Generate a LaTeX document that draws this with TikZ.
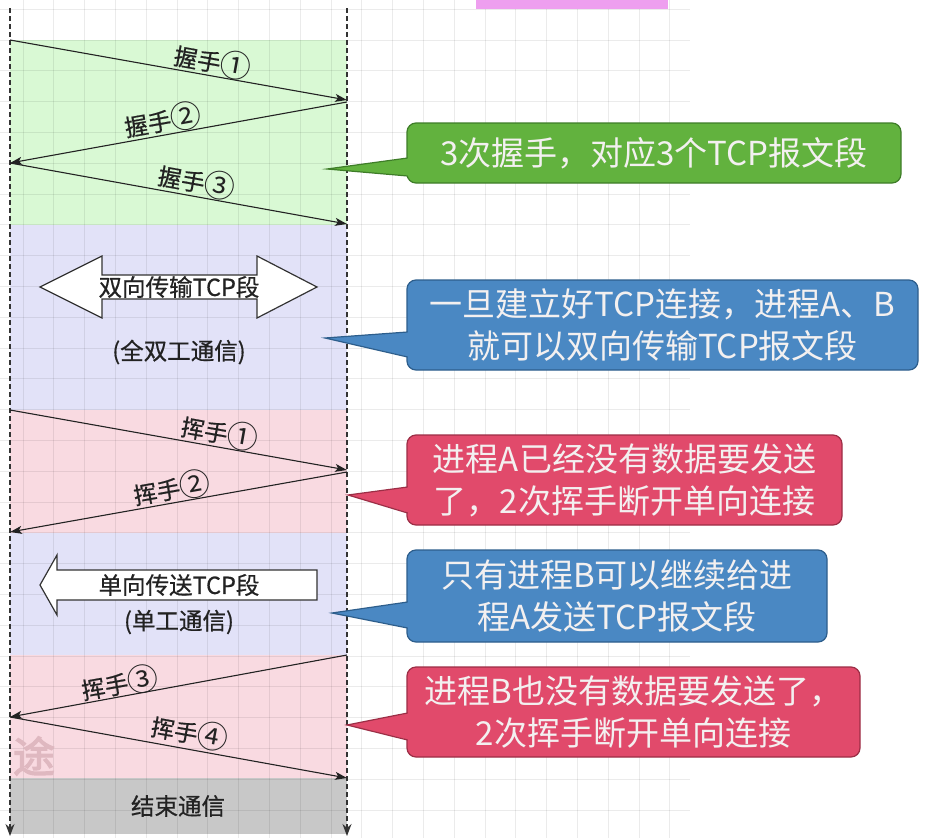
\documentclass[tikz,border=0pt]{standalone}
\usepackage{fontspec}
\usepackage{graphicx}
\setmainfont{Noto Sans CJK SC}
\newfontfamily\lblfont{Noto Sans CJK SC}[FakeBold=0.6]
\newfontfamily\wmfont{Noto Sans CJK SC}[FakeBold=3]
\usetikzlibrary{arrows.meta}
\definecolor{bandgreen}{HTML}{D9F9D4}
\definecolor{bandlav}{HTML}{E2E2F8}
\definecolor{bandpink}{HTML}{F9DAE1}
\definecolor{bandgray}{HTML}{C8C8C8}
\definecolor{cgreen}{HTML}{62B23E}
\definecolor{cgreenb}{HTML}{3E7D28}
\definecolor{cblue}{HTML}{4A88C3}
\definecolor{cblueb}{HTML}{2D5E8C}
\definecolor{cred}{HTML}{E14A6B}
\definecolor{credb}{HTML}{9C2E46}
\definecolor{ink}{HTML}{222222}
\definecolor{topbar}{HTML}{EE9FEF}
\definecolor{calltext}{HTML}{F3F0F0}
\definecolor{wmark}{HTML}{DFB8C0}
\newcommand\cnum[1]{{\rmfamily\raisebox{-0.07em}{\scalebox{1.32}{#1}}}}
\tikzset{
  gridline/.style={draw=black, opacity=0.08, line width=1pt},
  lifeline/.style={draw=black!80, line width=1.3pt, dash pattern=on 5pt off 3pt, -{Stealth[length=12pt,width=9pt]}},
  msg/.style={draw=ink, line width=1.1pt, -{Stealth[length=12pt,width=8pt,inset=3pt]}},
  lbl/.style={text=ink, font=\lblfont\fontsize{23.5}{27}\selectfont, inner sep=0pt},
  bigarrow/.style={draw=black!80, fill=white, line width=1.2pt, line join=miter},
  callbox/.style={rounded corners=9pt, line width=1.2pt, text=calltext, align=center,
    font=\fontsize{33}{42}\selectfont, inner sep=0pt},
}
\begin{document}
\begin{tikzpicture}[x=1pt,y=-1pt]
\useasboundingbox (0,0) rectangle (932,838);
\fill[white] (0,0) rectangle (932,838);
% bands
\fill[bandgreen] (10,40) rectangle (347,225);
\fill[bandlav] (10,225) rectangle (347,410);
\fill[bandpink] (10,410) rectangle (347,533);
\fill[bandlav] (10,533) rectangle (347,655);
\fill[bandpink] (10,655) rectangle (347,778);
\fill[bandgray] (10,778) rectangle (347,834);
% grid
\foreach \k in {0,...,21} { \draw[gridline] ({23+30.8*\k},0) -- ({23+30.8*\k},838); }
\foreach \k in {0,...,26} { \draw[gridline] (0,{9.2+30.8*\k}) -- (690,{9.2+30.8*\k}); }
% top bar
\fill[topbar] (476,0) rectangle (668,9);
% watermark
\node[text=wmark, font=\wmfont\fontsize{42}{42}\selectfont, inner sep=0pt] (wm) at (34,756) {途};
% lifelines
\coordinate (Atop) at (10,8);
\coordinate (Abot) at (10,836);
\coordinate (Btop) at (347,8);
\coordinate (Bbot) at (347,836);
\draw[lifeline] (Atop) -- (Abot);
\draw[lifeline] (Btop) -- (Bbot);
% message end points
\coordinate (a1) at (10,40);  \coordinate (b1) at (347,100);
\coordinate (b2) at (347,102); \coordinate (a2) at (10,163);
\coordinate (a3) at (10,163); \coordinate (b3) at (347,224);
\coordinate (a4) at (10,410); \coordinate (b4) at (347,470);
\coordinate (b5) at (347,472); \coordinate (a5) at (10,532);
\coordinate (b6) at (347,655); \coordinate (a6) at (10,717);
\coordinate (a7) at (10,717); \coordinate (b7) at (347,778);
\draw[msg] (a1) -- (b1);
\draw[msg] (b2) -- (a2);
\draw[msg] (a3) -- (b3);
\draw[msg] (a4) -- (b4);
\draw[msg] (b5) -- (a5);
\draw[msg] (b6) -- (a6);
\draw[msg] (a7) -- (b7);
\node[lbl, rotate=-10.1] (l1) at (213,61) {握手\cnum{①}};
\node[lbl, rotate=10.1] (l2) at (163,120) {握手\cnum{②}};
\node[lbl, rotate=-10.1] (l3) at (197,181) {握手\cnum{③}};
\node[lbl, rotate=-10.1] (l4) at (220,432) {挥手\cnum{①}};
\node[lbl, rotate=10.1] (l5) at (172,488) {挥手\cnum{②}};
\node[lbl, rotate=10.1] (l6) at (120,683) {挥手\cnum{③}};
\node[lbl, rotate=-10.1] (l7) at (190,732) {挥手\cnum{④}};
% double arrow
\draw[bigarrow] (40,287) -- (102,256) -- (102,275) -- (257,275) -- (257,256) -- (317,287)
  -- (257,318) -- (257,299) -- (102,299) -- (102,318) -- cycle;
\node[lbl] (dup) at (179,287) {双向传输TCP段};
\node[lbl] (dupn) at (179,352) {(全双工通信)};
% single arrow
\draw[bigarrow] (40,585) -- (57,555) -- (57,570) -- (317,570) -- (317,600) -- (57,600) -- (57,615) -- cycle;
\node[lbl] (sim) at (179,585) {单向传送TCP段};
\node[lbl] (simn) at (179,622) {(单工通信)};
% end
\node[lbl] (endc) at (178,806) {结束通信};
% callouts
\node[callbox, fill=cgreen, draw=cgreenb, minimum width=494pt, minimum height=60pt] (c1) at (654,153) {3次握手，对应3个TCP报文段};
\coordinate (t1) at (327,169);
\fill[cgreen] (t1) -- (409,158) -- (409,176) -- cycle;
\draw[cgreenb, line width=1.2pt, line join=miter] (407.6,158) -- (t1) -- (407.6,176);

\node[callbox, fill=cblue, draw=cblueb, minimum width=511pt, minimum height=90pt] (c2) at (662.5,325) {一旦建立好TCP连接，进程A、B\\就可以双向传输TCP报文段};
\coordinate (t2) at (325,338);
\fill[cblue] (t2) -- (409,332) -- (409,357) -- cycle;
\draw[cblueb, line width=1.2pt, line join=miter] (407.6,332) -- (t2) -- (407.6,357);

\node[callbox, fill=cred, draw=credb, minimum width=435pt, minimum height=90pt] (c3) at (624.5,480) {进程A已经没有数据要发送\\了，2次挥手断开单向连接};
\coordinate (t3) at (348,495);
\fill[cred] (t3) -- (409,487) -- (409,513) -- cycle;
\draw[credb, line width=1.2pt, line join=miter] (407.6,487) -- (t3) -- (407.6,513);

\node[callbox, fill=cblue, draw=cblueb, minimum width=420pt, minimum height=92pt] (c4) at (617,596) {只有进程B可以继续给进\\程A发送TCP报文段};
\coordinate (t4) at (332,613);
\fill[cblue] (t4) -- (409,602) -- (409,628) -- cycle;
\draw[cblueb, line width=1.2pt, line join=miter] (407.6,602) -- (t4) -- (407.6,628);

\node[callbox, fill=cred, draw=credb, minimum width=453pt, minimum height=90pt] (c5) at (633.5,712) {进程B也没有数据要发送了，\\2次挥手断开单向连接};
\coordinate (t5) at (347,725);
\fill[cred] (t5) -- (409,713) -- (409,740) -- cycle;
\draw[credb, line width=1.2pt, line join=miter] (407.6,713) -- (t5) -- (407.6,740);
\end{tikzpicture}
\end{document}
